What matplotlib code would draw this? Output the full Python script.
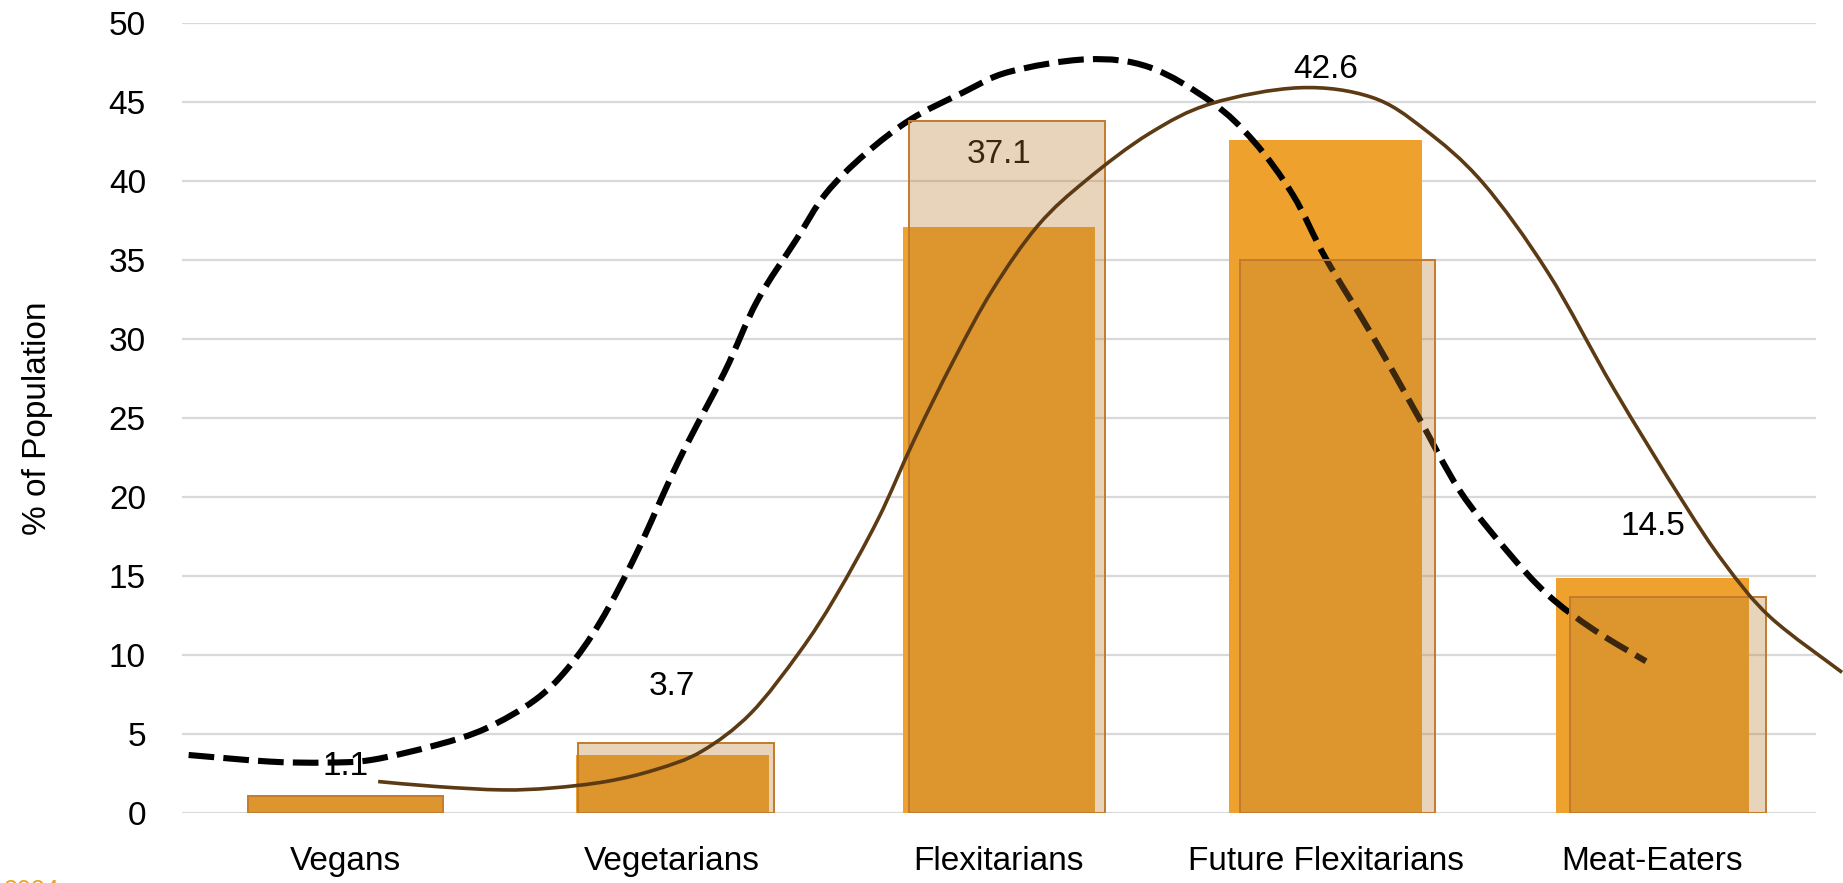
import numpy as np
import matplotlib
matplotlib.use("Agg")
import matplotlib.pyplot as plt
from matplotlib.path import Path
from matplotlib.patches import PathPatch

plt.rcParams['font.family'] = ['Liberation Sans', 'DejaVu Sans']

# data
categories = ["Vegans", "Vegetarians", "Flexitarians", "Future Flexitarians", "Meat-Eaters"]
share_now = [1.1, 3.7, 37.1, 42.6, 14.9]          # solid orange bars
share_label = ["1.1", "3.7", "37.1", "42.6", "14.5"]
share_other = [1.1, 4.4, 43.8, 35.0, 13.7]        # translucent bars

# dashed curve (x in category units)
dash_x = [-0.48, -0.23, -0.06, 0.08, 0.28, 0.43, 0.58, 0.68, 0.78, 0.89, 1.02, 1.16,
          1.26, 1.38, 1.47, 1.59, 1.73, 1.89, 2.03, 2.27, 2.46, 2.65, 2.78, 2.90,
          3.00, 3.14, 3.28, 3.41, 3.55, 3.68, 3.82, 3.98]
dash_y = [3.67, 3.25, 3.19, 3.36, 4.31, 5.35, 7.15, 9.15, 12.1, 16.4, 22.3, 27.9,
          32.4, 36.3, 39.2, 41.7, 43.9, 45.6, 46.9, 47.7, 47.2, 45.0, 42.5, 39.1,
          35.1, 30.3, 25.2, 20.4, 16.7, 13.8, 11.6, 9.6]

# solid brown curve
brown_x = [0.10, 0.28, 0.48, 0.63, 0.80, 0.95, 1.09, 1.24, 1.39, 1.50, 1.63, 1.74,
           1.86, 1.98, 2.12, 2.27, 2.46, 2.65, 2.92, 3.14, 3.30, 3.48, 3.68, 3.88,
           4.09, 4.22, 4.36, 4.58]
brown_y = [1.99, 1.67, 1.46, 1.58, 2.0, 2.75, 3.9, 6.3, 10.2, 13.7, 18.6, 23.6,
           28.6, 33.1, 37.2, 40.1, 43.0, 44.9, 45.9, 45.3, 43.3, 39.9, 34.2, 26.9,
           19.8, 15.8, 12.4, 8.9]

orange = '#EFA12E'
tan = (186/255, 124/255, 46/255, 0.32)
tan_edge = '#C47A2C'
brown = '#5C3A13'


def smooth_path(xs, ys):
    # excel-like smoothed line: catmull-rom turned into cubic beziers
    p = np.column_stack([xs, ys])
    verts = [p[0]]
    codes = [Path.MOVETO]
    for i in range(len(p) - 1):
        p0 = p[i - 1] if i > 0 else p[i]
        p3 = p[i + 2] if i + 2 < len(p) else p[i + 1]
        c1 = p[i] + (p[i + 1] - p0) / 6
        c2 = p[i + 1] - (p3 - p[i]) / 6
        verts += [c1, c2, p[i + 1]]
        codes += [Path.CURVE4] * 3
    return Path(verts, codes)


fig = plt.figure(figsize=(18.43, 8.83), dpi=100)
ax = fig.add_axes([0.0988, 0.0793, 0.8865, 0.8947])
x = np.arange(len(categories))

ax.bar(x, share_now, width=0.59, color=orange, zorder=2)
for xi, v, s, off in zip(x, share_now, share_label, [21, 49, 52, 51, 37]):
    ax.annotate(s, (xi, v), xytext=(0, off), textcoords='offset points',
                ha='center', va='center', fontsize=24, color='black', zorder=3)
dashed = PathPatch(smooth_path(dash_x, dash_y), fill=False, edgecolor='black',
                   lw=4.4, linestyle=(0, (4.2, 1.5)), capstyle='butt', zorder=4,
                   transform=ax.transData, clip_on=False)
ax.add_patch(dashed)

ax.set_xlim(-0.5, 4.5)
ax.set_ylim(0, 50)
ax.set_yticks(np.arange(0, 51, 5))
ax.set_xticks(x)
ax.set_xticklabels(categories)
ax.tick_params(axis='both', length=0, labelsize=24, colors='black')
ax.tick_params(axis='y', pad=26)
ax.tick_params(axis='x', pad=24)
ax.grid(axis='y', color='#D9D9D9', lw=1.6, zorder=0)
ax.set_axisbelow(True)
for sp in ax.spines.values():
    sp.set_visible(False)
ax.set_ylabel("% of Population", fontsize=24, labelpad=40)

# translucent series sits on a slightly stretched secondary x axis
stretch = 1.012
ax2 = ax.twiny()
ax2.set_xlim(-0.5 / stretch, 4.5 / stretch)
ax2.set_ylim(0, 50)
ax2.bar(x, share_other, width=0.592, color=tan, edgecolor=tan_edge, lw=1.4, zorder=2)
curve = PathPatch(smooth_path(brown_x, brown_y), fill=False, edgecolor=brown, lw=2.6,
                  transform=ax.transData, clip_on=False, zorder=5)
ax2.add_patch(curve)
ax2.set_xticks([])
for sp in ax2.spines.values():
    sp.set_visible(False)

fig.text(0.002, 0.004, "2024", color=orange, fontsize=18, va='top', ha='left')

fig.savefig("out.png", dpi=100)
